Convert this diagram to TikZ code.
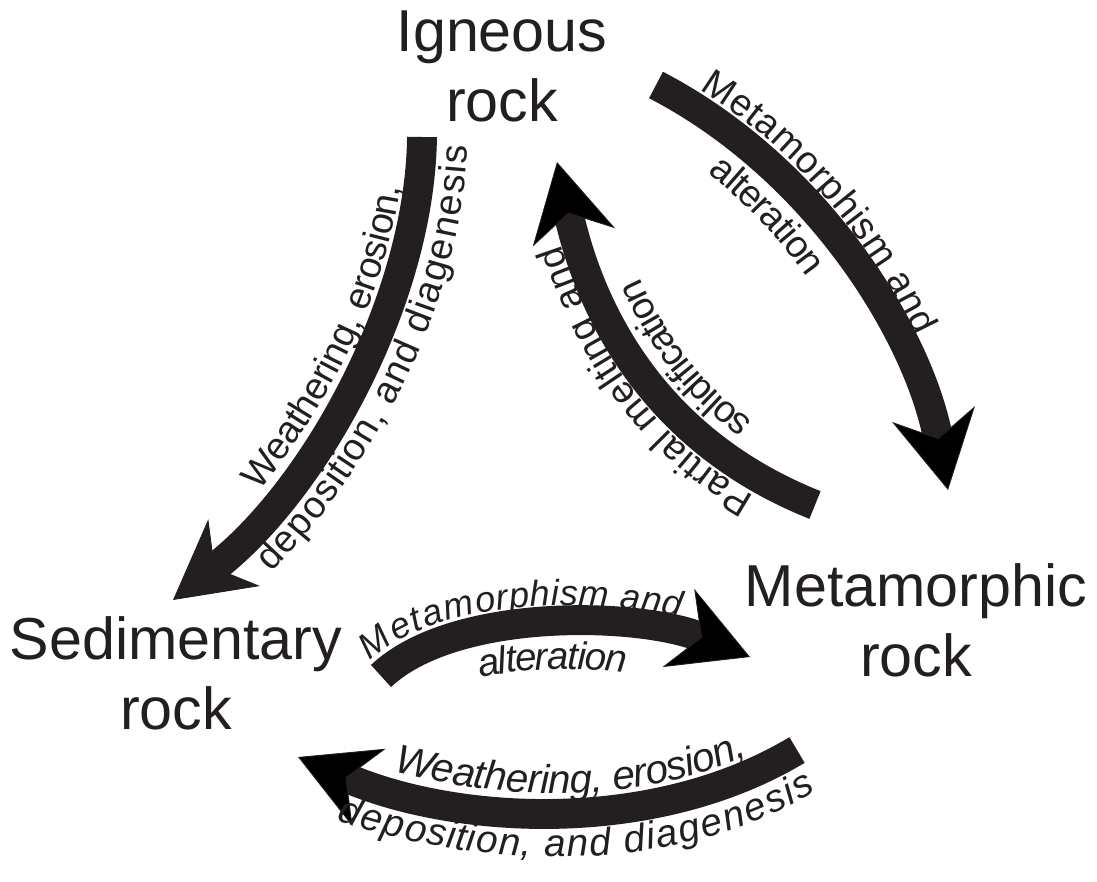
\documentclass[tikz,border=0pt]{standalone}
\usepackage{fontspec}
\setmainfont{Liberation Sans}
\usetikzlibrary{arrows.meta,decorations.text}
\definecolor{ink}{HTML}{231F20}
\newcommand{\lblfont}{\fontsize{21.5}{24}\selectfont}
\newcommand{\lblitfont}{\fontsize{22}{24}\selectfont\itshape}

\tikzset{
  rock/.style={align=center, inner sep=0pt, text=ink, font=\fontsize{33.7}{39.7}\selectfont},
  cyc/.style={draw=ink, line width=17pt, -{Stealth[length=44pt, width=48pt, inset=14pt, line width=0.5pt]}},
  lbl/.style n args={4}{decorate, decoration={text along path, raise=#1, text align={left indent=#2}, text color=ink, text={|#3|#4}}},
  along/.style n args={3}{lbl={#1}{#2}{\lblfont}{#3}},
  along it/.style n args={3}{lbl={#1}{#2}{\lblitfont}{#3}}
}

\begin{document}
\begin{tikzpicture}[x=0.02cm, y=-0.02cm]
\useasboundingbox (0,0) rectangle (1097,881);

\node[rock] (igneous) at (502,66.5) {Igneous\\rock};
\node[rock] (meta) at (916,620) {Metamorphic\\rock};
\node[rock] (sed) at (176,673) {Sedimentary\\rock};

% ends of the arrows
\coordinate (ig-sed-a) at (422,137);   \coordinate (ig-sed-b) at (173,600);
\coordinate (ig-meta-a) at (656,85);   \coordinate (ig-meta-b) at (948,490);
\coordinate (meta-ig-a) at (815,505);  \coordinate (meta-ig-b) at (557,162);
\coordinate (sed-meta-a) at (381,676); \coordinate (sed-meta-b) at (750,657);
\coordinate (meta-sed-a) at (797,750); \coordinate (meta-sed-b) at (298,757);

% igneous -> sedimentary
\draw[cyc] (ig-sed-a) .. controls (420,300) and (315,490) .. (ig-sed-b);
\path[along={10.2pt}{80pt}{Weathering, erosion,}] (ig-sed-b) .. controls (315,490) and (420,300) .. (ig-sed-a);
\path[along={-26pt}{50pt}{deposition, and diagenesis}] (ig-sed-b) .. controls (315,490) and (420,300) .. (ig-sed-a);

% igneous -> metamorphic
\draw[cyc] (ig-meta-a) .. controls (816,168) and (918,333) .. (ig-meta-b);
\path[along={10.2pt}{22pt}{Metamorphism and}] (ig-meta-a) .. controls (816,168) and (918,333) .. (ig-meta-b);
\path[along={-26pt}{55pt}{alteration}] (ig-meta-a) .. controls (816,168) and (918,333) .. (ig-meta-b);

% metamorphic -> igneous
\draw[cyc] (meta-ig-a) .. controls (662,444) and (593,323) .. (meta-ig-b);
\path[along={10.2pt}{32pt}{Partial melting and}] (meta-ig-a) .. controls (662,444) and (593,323) .. (meta-ig-b);
\path[along={-25pt}{58pt}{solidification}] (meta-ig-a) .. controls (662,444) and (593,323) .. (meta-ig-b);

% sedimentary -> metamorphic
\draw[cyc] (sed-meta-a) .. controls (454,607) and (639,612) .. (sed-meta-b);
\path[lbl={10.2pt}{0pt}{\lblitfont\fontsize{20.5}{24}\selectfont}{Metamorphism and}] (sed-meta-a) .. controls (454,607) and (639,612) .. (sed-meta-b);
\path[along it={-26pt}{58pt}{alteration}] (sed-meta-a) .. controls (454,607) and (639,612) .. (sed-meta-b);

% metamorphic -> sedimentary
\draw[cyc] (meta-sed-a) .. controls (652,837) and (454,824) .. (meta-sed-b);
\path[lbl={10.2pt}{55pt}{\lblitfont\fontsize{23}{24}\selectfont}{Weathering, erosion,}] (meta-sed-b) .. controls (454,824) and (652,837) .. (meta-sed-a);
\path[along it={-26pt}{32pt}{deposition, and diagenesis}] (meta-sed-b) .. controls (454,824) and (652,837) .. (meta-sed-a);
\end{tikzpicture}
\end{document}
